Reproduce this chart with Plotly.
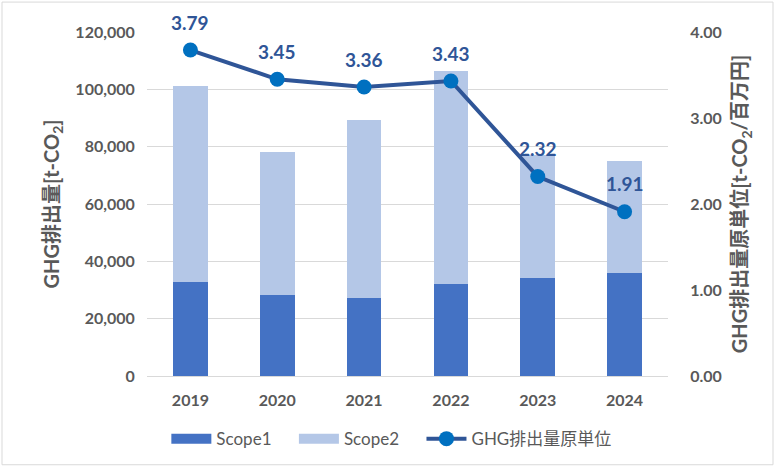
import plotly.graph_objects as go

years = ["2019", "2020", "2021", "2022", "2023", "2024"]
scope1 = [32700, 28200, 27100, 32000, 34100, 36000]
scope2 = [68500, 50000, 62200, 74400, 43100, 39000]
intensity = [3.79, 3.45, 3.36, 3.43, 2.32, 1.91]
left_ticks = [0, 20000, 40000, 60000, 80000, 100000, 120000]
right_ticks = [0, 1, 2, 3, 4]

FONT = "Lato, Noto Sans CJK JP, sans-serif"
GRAY = "#595959"
C1, C2 = "#4472C4", "#B4C7E7"
PAD = "\u00a0" * 4

fig = go.Figure()
fig.add_trace(go.Bar(x=years, y=scope1, name="Scope1", marker_color=C1,
                     marker_line_width=0, showlegend=False))
fig.add_trace(go.Bar(x=years, y=scope2, name="Scope2", marker_color=C2,
                     marker_line_width=0, showlegend=False))
# legend proxies (wide rectangular swatches like the reference)
fig.add_trace(go.Scatter(x=[None], y=[None], name="Scope1" + PAD, mode="lines",
                         line=dict(color=C1, width=10)))
fig.add_trace(go.Scatter(x=[None], y=[None], name="Scope2" + PAD, mode="lines",
                         line=dict(color=C2, width=10)))
fig.add_trace(go.Scatter(x=years, y=intensity, name="GHG排出量原単位", yaxis="y2",
                         mode="lines+markers",
                         line=dict(color="#2F5597", width=4),
                         marker=dict(color="#0070C0", size=15)))

for i, v in enumerate(intensity):
    fig.add_annotation(x=i, y=v, xref="x", yref="y2", text=f"{v:.2f}", showarrow=False,
                       yshift=28, font=dict(family=FONT, size=19, color="#2F5597", weight="bold"))

W, H = 776, 468
l, r, t, b = 147, 108, 32, 91
pw, ph = W - l - r, H - t - b
fig.add_shape(type="rect", xref="paper", yref="paper",
              x0=-(l - 2) / pw, x1=1 + (r - 3) / pw,
              y0=-(b - 2) / ph, y1=1 + (t - 2) / ph,
              line=dict(color="#D9D9D9", width=1), layer="below")

fig.update_layout(
    width=W, height=H, margin=dict(l=l, r=r, t=t, b=b),
    barmode="stack", bargap=0.6,
    plot_bgcolor="white", paper_bgcolor="white",
    font=dict(family=FONT, color=GRAY),
    xaxis=dict(type="category", range=[-0.5, len(years) - 0.5],
               tickfont=dict(size=16, color=GRAY, weight="bold"),
               showline=True, linecolor="#D9D9D9", ticks="outside", ticklen=10,
               tickcolor="rgba(0,0,0,0)"),
    yaxis=dict(range=[0, 120000], tickvals=left_ticks, tickformat=",",
               tickfont=dict(size=16, color=GRAY, weight="bold"),
               gridcolor="#D9D9D9", zeroline=False, ticks="outside", ticklen=8,
               tickcolor="rgba(0,0,0,0)",
               title=dict(text="GHG排出量[t-CO<sub>2</sub>]", standoff=10,
                          font=dict(size=20, color=GRAY, weight="bold"))),
    yaxis2=dict(range=[0, 4], tickvals=right_ticks, tickformat=".2f", overlaying="y",
                side="right", showgrid=False, zeroline=False, ticks="outside", ticklen=18,
                tickcolor="rgba(0,0,0,0)",
                tickfont=dict(size=16, color=GRAY, weight="bold"),
                title=dict(text="GHG排出量原単位[t-CO<sub>2</sub>/百万円]", standoff=12,
                           font=dict(size=20, color=GRAY, weight="bold"))),
    legend=dict(orientation="h", x=0.469, xanchor="center", y=-0.18, yanchor="middle",
                font=dict(size=17, color=GRAY), traceorder="normal", itemwidth=40),
)

fig.write_html("out.html")
